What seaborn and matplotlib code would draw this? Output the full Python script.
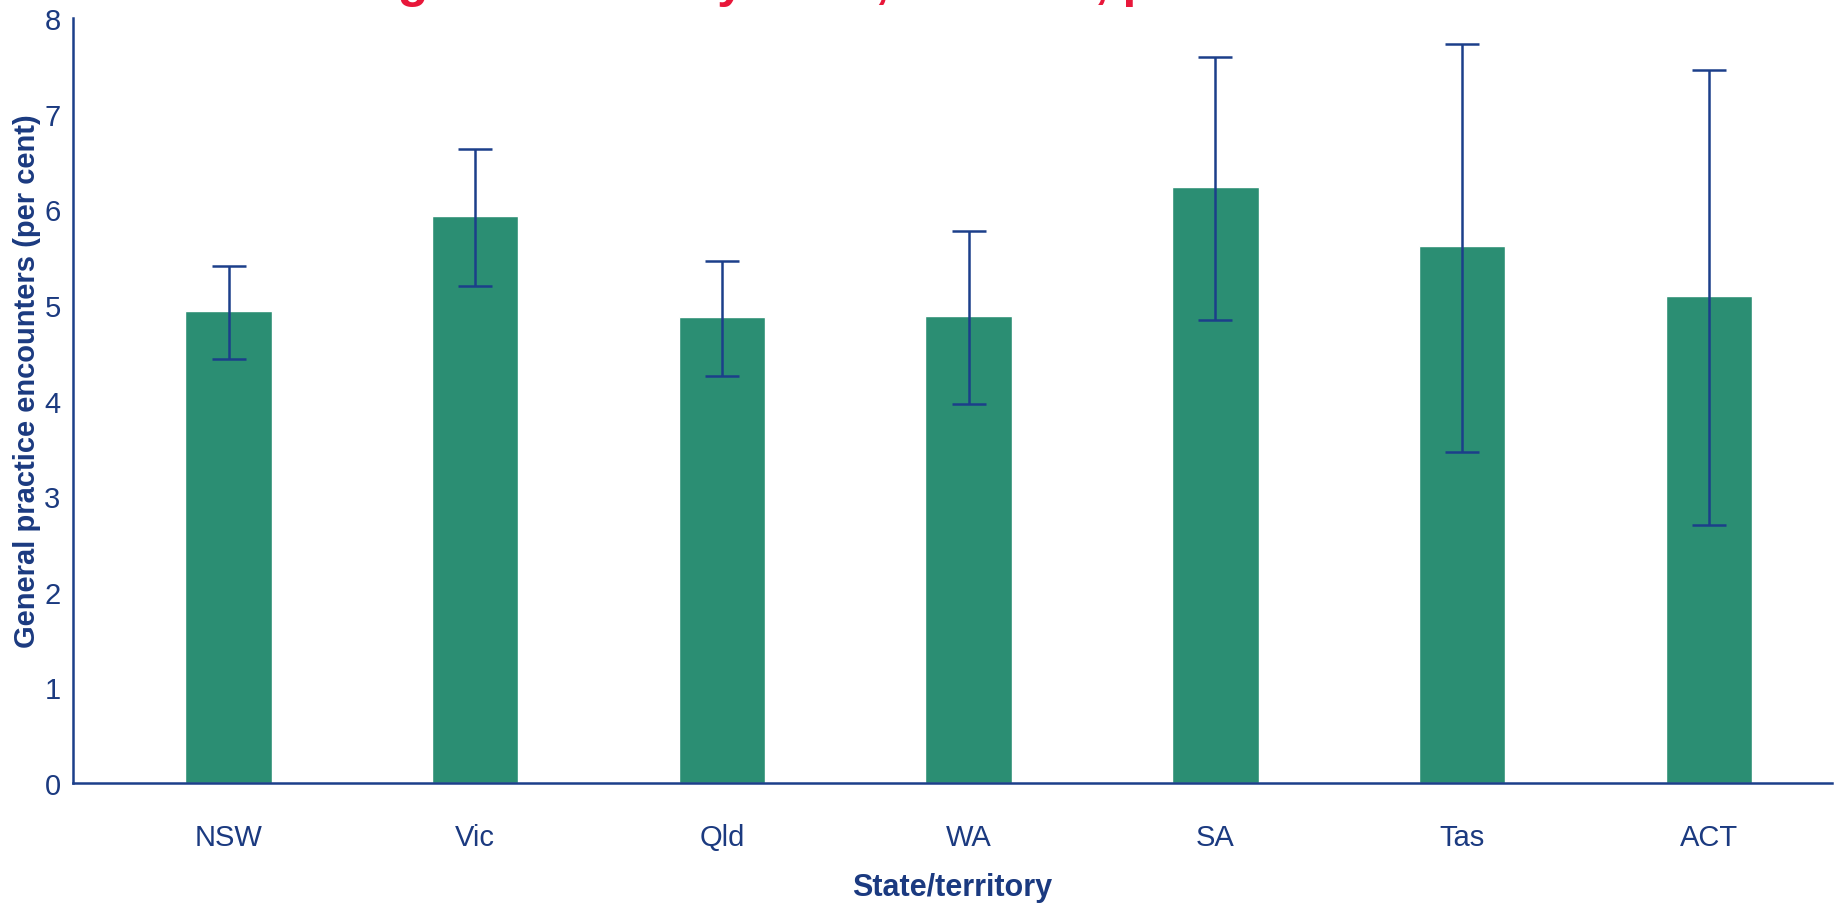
import numpy as np
import pandas as pd
import matplotlib
matplotlib.use("Agg")
import matplotlib.pyplot as plt
import seaborn as sns
from matplotlib.ticker import MultipleLocator

# data
states = ["NSW", "Vic", "Qld", "WA", "SA", "Tas", "ACT"]
rate = [4.94, 5.93, 4.88, 4.89, 6.23, 5.62, 5.09]
ci_low = [4.44, 5.20, 4.26, 3.97, 4.84, 3.46, 2.70]
ci_high = [5.41, 6.63, 5.46, 5.77, 7.59, 7.73, 7.46]

title = "Smoking cessation by state, 2010\u201311, per cent"

green = "#2B8E73"
navy = "#1C3F8A"
textc = "#1B3A80"

sns.set_style("white")
plt.rcParams["font.family"] = ["Liberation Sans", "DejaVu Sans"]

df = pd.DataFrame({"state": states, "rate": rate})

fig = plt.figure(figsize=(18.41, 9.04), dpi=100)
ax = fig.add_axes([0.0397, 0.1327, 0.9555, 0.846])

sns.barplot(data=df, x="state", y="rate", color=green, width=0.35,
            saturation=1, errorbar=None, ax=ax)

lo = np.array(rate) - np.array(ci_low)
hi = np.array(ci_high) - np.array(rate)
ax.errorbar(np.arange(len(states)), rate, yerr=[lo, hi], fmt="none",
            ecolor=navy, elinewidth=1.8, capsize=12, capthick=1.8, zorder=3)

ax.set_xlim(-0.63, 6.5)
ax.set_ylim(0, 8)
ax.yaxis.set_major_locator(MultipleLocator(1))
ax.yaxis.set_minor_locator(MultipleLocator(0.5))

sns.despine(ax=ax)
for s in ["left", "bottom"]:
    ax.spines[s].set_color(navy)
    ax.spines[s].set_linewidth(1.8)

ax.tick_params(axis="y", which="major", direction="out", length=7, width=1.6,
               color=navy, labelsize=21, labelcolor=textc, pad=2)
ax.tick_params(axis="y", which="minor", direction="out", length=5, width=1.3,
               color="#9FB0CE")
ax.tick_params(axis="x", length=0, labelsize=21, labelcolor=textc, pad=29)

ax.set_xlabel("State/territory", fontsize=22, fontweight="bold", color=textc,
              labelpad=15)
ax.set_ylabel("General practice encounters (per cent)", fontsize=21,
              fontweight="bold", color=textc)
ax.yaxis.set_label_coords(-0.018, 0.527)

# title sits above the frame, only its descenders are visible
fig.text(0.118, 1 + 3 / 904, title, color="#E8173A", fontsize=36,
         fontweight="bold", va="baseline", ha="left")

fig.savefig("out.png", dpi=100)
